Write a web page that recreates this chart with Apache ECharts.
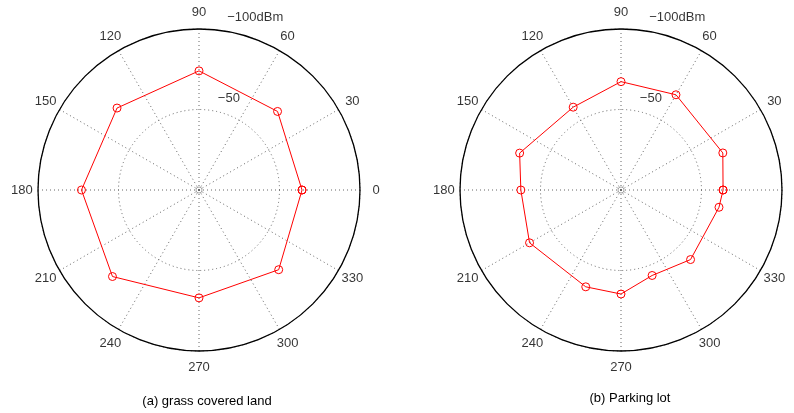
<!DOCTYPE html>
<html>
<head>
<meta charset="utf-8">
<script src="https://cdn.jsdelivr.net/npm/echarts@6/dist/echarts.min.js"></script>
<style>
html,body{margin:0;padding:0;background:#fff;}
#chart{width:794px;height:413px;}
</style>
</head>
<body>
<div id="chart"></div>
<script>
// ---- data ----
const angleTickLabels = [0,30,60,90,120,150,180,210,240,270,300,330];
const radiusTicks = [50,100];
const radialLabels = ['\u221250','\u2212100dBm'];
const captions = ['(a) grass covered land','(b) Parking lot'];

const grassAngles = [0,45,90,135,180,225,270,315,360];
const grassValues = [64,69,74,72,73,76,67,70,64];

const parkingAngles = [0,20,60,90,120,160,180,210,250,270,290,315,350,360];
const parkingValues = [63.4,67.3,68.3,67.3,59.4,67,62.2,65.6,64,64.6,56.5,61.1,61.8,63.4];

// ---- chart ----
const FONT = 'Liberation Sans, Arial, Helvetica, sans-serif';
const FS = 13;
const chart = echarts.init(document.getElementById('chart'), null, {renderer:'canvas'});

function makePolar(center){
  return {center:center, radius:161};
}
function makeAngleAxis(idx){
  return {
    polarIndex: idx, type:'value', min:0, max:360, interval:30,
    startAngle:0, clockwise:false,
    axisLine:{show:true, lineStyle:{color:'#000', width:1.3}},
    axisTick:{show:false},
    axisLabel:{show:false},
    splitLine:{show:true, lineStyle:{color:'#666', width:1, type:[1,3]}}
  };
}
function makeRadiusAxis(idx){
  return {
    polarIndex: idx, type:'value', min:0, max:radiusTicks[radiusTicks.length-1], interval:radiusTicks[0],
    axisLine:{show:false}, axisTick:{show:false}, axisLabel:{show:false},
    splitLine:{show:true, lineStyle:{color:'#666', width:1, type:[1,3]}}
  };
}
function zip(rs, as){ return rs.map((r,i)=>[r, as[i]]); }
function dataSeries(idx, rs, as){
  return {
    type:'line', coordinateSystem:'polar', polarIndex:idx,
    data: zip(rs, as), smooth:false,
    symbol:'circle', symbolSize:8, showAllSymbol:true,
    lineStyle:{color:'#ff0000', width:1},
    itemStyle:{color:'rgba(0,0,0,0)', borderColor:'#ff0000', borderWidth:1},
    z:5, animation:false
  };
}
function centerSeries(idx){
  return {
    type:'scatter', coordinateSystem:'polar', polarIndex:idx,
    data:[[0,0]], symbol:'circle', symbolSize:6,
    itemStyle:{color:'rgba(0,0,0,0)', borderColor:'#777', borderWidth:0.8},
    z:4, animation:false, silent:true
  };
}
function textSeries(idx, pts, texts){
  return {
    type:'scatter', coordinateSystem:'polar', polarIndex:idx,
    data: pts.map((p,i)=>({value:p, label:{formatter:texts[i]}})),
    symbolSize:0, clip:false,
    label:{show:true, position:'inside', color:'#000', fontFamily:FONT, fontSize:FS},
    z:6, animation:false, silent:true
  };
}
function angleLabelSeries(idx){
  // angle tick labels centered on a circle just outside the outer ring
  return textSeries(idx, angleTickLabels.map(a=>[110, a]), angleTickLabels.map(String));
}
function radialLabelSeries(idx){
  // radial labels along 72 deg
  return textSeries(idx, [[60,72],[113,72]], radialLabels);
}

chart.setOption({
  animation:false,
  backgroundColor:'#fff',
  polar:[makePolar([199,190]), makePolar([621,190])],
  angleAxis:[makeAngleAxis(0), makeAngleAxis(1)],
  radiusAxis:[makeRadiusAxis(0), makeRadiusAxis(1)],
  series:[
    dataSeries(0, grassValues, grassAngles),
    dataSeries(1, parkingValues, parkingAngles),
    centerSeries(0), centerSeries(1),
    angleLabelSeries(0), angleLabelSeries(1),
    radialLabelSeries(0), radialLabelSeries(1)
  ],
  graphic:[
    {type:'text', x:207, y:401, style:{text:captions[0], align:'center', verticalAlign:'middle', fill:'#000', font:FS+'px '+FONT}},
    {type:'text', x:630, y:398, style:{text:captions[1], align:'center', verticalAlign:'middle', fill:'#000', font:FS+'px '+FONT}}
  ]
});
</script>
</body>
</html>
